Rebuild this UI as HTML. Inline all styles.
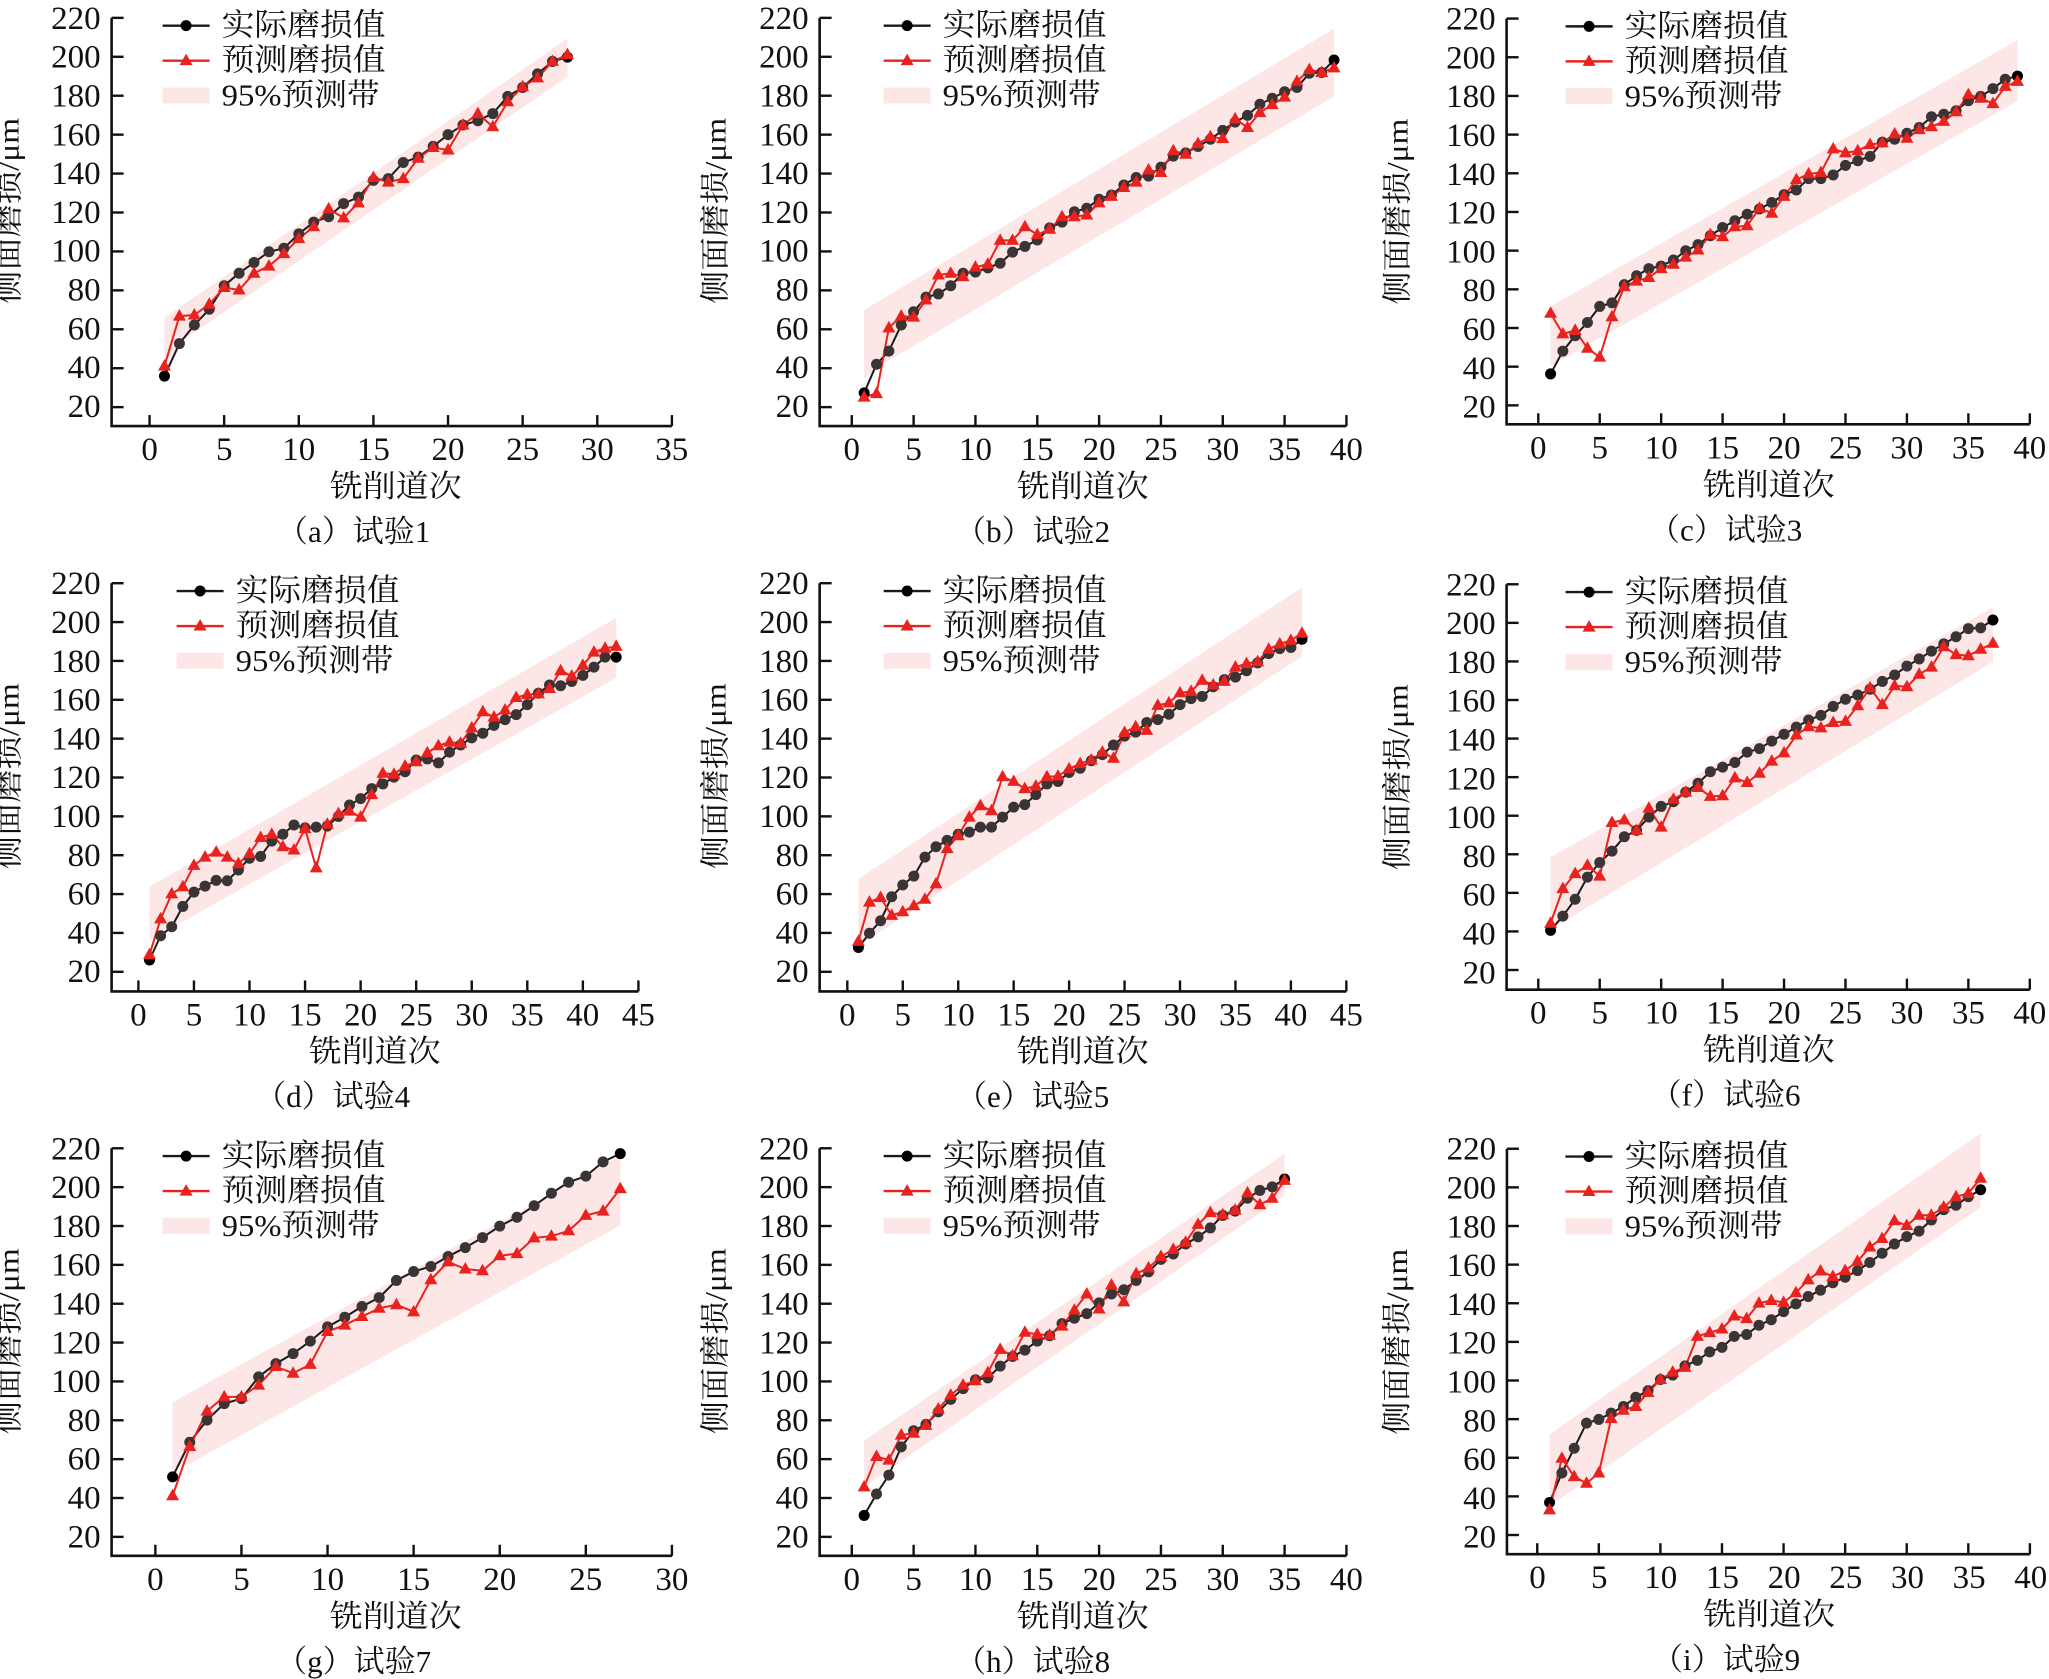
<!DOCTYPE html>
<html><head><meta charset="utf-8"><style>
html,body{margin:0;padding:0;background:#fff}
svg{display:block}
text{font-family:"Liberation Serif","Noto Serif CJK SC",serif;fill:#111}
.yl{font-size:33px;text-anchor:end}
.xl{font-size:33px;text-anchor:middle}
.t{font-size:31px;text-anchor:middle}
.yt{font-size:30px;text-anchor:middle}
.lg{font-size:31px}
</style></head><body>
<svg id="s" width="2049" height="1679" viewBox="0 0 2049 1679" xmlns="http://www.w3.org/2000/svg">
<rect width="2049" height="1679" fill="#fff"/>
<g id="data"></g>

<!-- panel a -->
<g transform="translate(111.6,17.9)">
<text class="yl" x="-11" y="11">220</text><text class="yl" x="-11" y="49.8">200</text><text class="yl" x="-11" y="88.6">180</text><text class="yl" x="-11" y="127.4">160</text><text class="yl" x="-11" y="166.2">140</text><text class="yl" x="-11" y="205">120</text><text class="yl" x="-11" y="243.8">100</text><text class="yl" x="-11" y="282.6">80</text><text class="yl" x="-11" y="321.4">60</text><text class="yl" x="-11" y="360.2">40</text><text class="yl" x="-11" y="399">20</text>
<text class="xl" x="38" y="442.2">0</text><text class="xl" x="112.6" y="442.2">5</text><text class="xl" x="187.2" y="442.2">10</text><text class="xl" x="261.8" y="442.2">15</text><text class="xl" x="336.4" y="442.2">20</text><text class="xl" x="411" y="442.2">25</text><text class="xl" x="485.6" y="442.2">30</text><text class="xl" x="560.2" y="442.2">35</text>
<text class="t" x="284" y="479" textLength="132" lengthAdjust="spacingAndGlyphs">铣削道次</text>
<text class="t" x="242" y="524">（a）试验1</text>
<text class="yt" transform="translate(-93,193) rotate(-90)" textLength="186" lengthAdjust="spacingAndGlyphs">侧面磨损/μm</text>
<text class="lg" x="110" y="17.8" textLength="164" lengthAdjust="spacingAndGlyphs">实际磨损值</text>
<text class="lg" x="110" y="52.8" textLength="164" lengthAdjust="spacingAndGlyphs">预测磨损值</text>
<text class="lg" x="110" y="87.8" textLength="158" lengthAdjust="spacingAndGlyphs">95%预测带</text>
</g>

<!-- panel b -->
<g transform="translate(819.6,17.9)">
<text class="yl" x="-11" y="11">220</text><text class="yl" x="-11" y="49.8">200</text><text class="yl" x="-11" y="88.6">180</text><text class="yl" x="-11" y="127.4">160</text><text class="yl" x="-11" y="166.2">140</text><text class="yl" x="-11" y="205">120</text><text class="yl" x="-11" y="243.8">100</text><text class="yl" x="-11" y="282.6">80</text><text class="yl" x="-11" y="321.4">60</text><text class="yl" x="-11" y="360.2">40</text><text class="yl" x="-11" y="399">20</text>
<text class="xl" x="32.2" y="442.2">0</text><text class="xl" x="94" y="442.2">5</text><text class="xl" x="155.9" y="442.2">10</text><text class="xl" x="217.7" y="442.2">15</text><text class="xl" x="279.5" y="442.2">20</text><text class="xl" x="341.4" y="442.2">25</text><text class="xl" x="403.2" y="442.2">30</text><text class="xl" x="465" y="442.2">35</text><text class="xl" x="526.8" y="442.2">40</text>
<text class="t" x="263" y="479" textLength="132" lengthAdjust="spacingAndGlyphs">铣削道次</text>
<text class="t" x="213" y="524">（b）试验2</text>
<text class="yt" transform="translate(-94,193) rotate(-90)" textLength="186" lengthAdjust="spacingAndGlyphs">侧面磨损/μm</text>
<text class="lg" x="123" y="17.8" textLength="164" lengthAdjust="spacingAndGlyphs">实际磨损值</text>
<text class="lg" x="123" y="52.8" textLength="164" lengthAdjust="spacingAndGlyphs">预测磨损值</text>
<text class="lg" x="123" y="87.8" textLength="158" lengthAdjust="spacingAndGlyphs">95%预测带</text>
</g>

<!-- panel c -->
<g transform="translate(1506.6,18.6)">
<text class="yl" x="-11" y="11">220</text><text class="yl" x="-11" y="49.8">200</text><text class="yl" x="-11" y="88.6">180</text><text class="yl" x="-11" y="127.4">160</text><text class="yl" x="-11" y="166.2">140</text><text class="yl" x="-11" y="205">120</text><text class="yl" x="-11" y="243.8">100</text><text class="yl" x="-11" y="282.6">80</text><text class="yl" x="-11" y="321.4">60</text><text class="yl" x="-11" y="360.2">40</text><text class="yl" x="-11" y="399">20</text>
<text class="xl" x="31.7" y="439.7">0</text><text class="xl" x="93.1" y="439.7">5</text><text class="xl" x="154.6" y="439.7">10</text><text class="xl" x="216" y="439.7">15</text><text class="xl" x="277.5" y="439.7">20</text><text class="xl" x="338.9" y="439.7">25</text><text class="xl" x="400.3" y="439.7">30</text><text class="xl" x="461.8" y="439.7">35</text><text class="xl" x="523.2" y="439.7">40</text>
<text class="t" x="262" y="476.7" textLength="132" lengthAdjust="spacingAndGlyphs">铣削道次</text>
<text class="t" x="219" y="521.7">（c）试验3</text>
<text class="yt" transform="translate(-99,193) rotate(-90)" textLength="186" lengthAdjust="spacingAndGlyphs">侧面磨损/μm</text>
<text class="lg" x="118" y="17.8" textLength="164" lengthAdjust="spacingAndGlyphs">实际磨损值</text>
<text class="lg" x="118" y="52.8" textLength="164" lengthAdjust="spacingAndGlyphs">预测磨损值</text>
<text class="lg" x="118" y="87.8" textLength="158" lengthAdjust="spacingAndGlyphs">95%预测带</text>
</g>

<!-- panel d -->
<g transform="translate(111.6,583.2)">
<text class="yl" x="-11" y="11">220</text><text class="yl" x="-11" y="49.8">200</text><text class="yl" x="-11" y="88.6">180</text><text class="yl" x="-11" y="127.4">160</text><text class="yl" x="-11" y="166.2">140</text><text class="yl" x="-11" y="205">120</text><text class="yl" x="-11" y="243.8">100</text><text class="yl" x="-11" y="282.6">80</text><text class="yl" x="-11" y="321.4">60</text><text class="yl" x="-11" y="360.2">40</text><text class="yl" x="-11" y="399">20</text>
<text class="xl" x="26.8" y="442.2">0</text><text class="xl" x="82.4" y="442.2">5</text><text class="xl" x="137.9" y="442.2">10</text><text class="xl" x="193.5" y="442.2">15</text><text class="xl" x="249" y="442.2">20</text><text class="xl" x="304.6" y="442.2">25</text><text class="xl" x="360.1" y="442.2">30</text><text class="xl" x="415.7" y="442.2">35</text><text class="xl" x="471.2" y="442.2">40</text><text class="xl" x="526.8" y="442.2">45</text>
<text class="t" x="263" y="479" textLength="132" lengthAdjust="spacingAndGlyphs">铣削道次</text>
<text class="t" x="221" y="524">（d）试验4</text>
<text class="yt" transform="translate(-93,193) rotate(-90)" textLength="186" lengthAdjust="spacingAndGlyphs">侧面磨损/μm</text>
<text class="lg" x="124" y="17.8" textLength="164" lengthAdjust="spacingAndGlyphs">实际磨损值</text>
<text class="lg" x="124" y="52.8" textLength="164" lengthAdjust="spacingAndGlyphs">预测磨损值</text>
<text class="lg" x="124" y="87.8" textLength="158" lengthAdjust="spacingAndGlyphs">95%预测带</text>
</g>

<!-- panel e -->
<g transform="translate(819.6,583.2)">
<text class="yl" x="-11" y="11">220</text><text class="yl" x="-11" y="49.8">200</text><text class="yl" x="-11" y="88.6">180</text><text class="yl" x="-11" y="127.4">160</text><text class="yl" x="-11" y="166.2">140</text><text class="yl" x="-11" y="205">120</text><text class="yl" x="-11" y="243.8">100</text><text class="yl" x="-11" y="282.6">80</text><text class="yl" x="-11" y="321.4">60</text><text class="yl" x="-11" y="360.2">40</text><text class="yl" x="-11" y="399">20</text>
<text class="xl" x="27.7" y="442.2">0</text><text class="xl" x="83.2" y="442.2">5</text><text class="xl" x="138.6" y="442.2">10</text><text class="xl" x="194.1" y="442.2">15</text><text class="xl" x="249.5" y="442.2">20</text><text class="xl" x="305" y="442.2">25</text><text class="xl" x="360.4" y="442.2">30</text><text class="xl" x="415.9" y="442.2">35</text><text class="xl" x="471.3" y="442.2">40</text><text class="xl" x="526.8" y="442.2">45</text>
<text class="t" x="263" y="479" textLength="132" lengthAdjust="spacingAndGlyphs">铣削道次</text>
<text class="t" x="213" y="524">（e）试验5</text>
<text class="yt" transform="translate(-94,193) rotate(-90)" textLength="186" lengthAdjust="spacingAndGlyphs">侧面磨损/μm</text>
<text class="lg" x="123" y="17.8" textLength="164" lengthAdjust="spacingAndGlyphs">实际磨损值</text>
<text class="lg" x="123" y="52.8" textLength="164" lengthAdjust="spacingAndGlyphs">预测磨损值</text>
<text class="lg" x="123" y="87.8" textLength="158" lengthAdjust="spacingAndGlyphs">95%预测带</text>
</g>

<!-- panel f -->
<g transform="translate(1506.6,584.3)">
<text class="yl" x="-11" y="11">220</text><text class="yl" x="-11" y="49.8">200</text><text class="yl" x="-11" y="88.6">180</text><text class="yl" x="-11" y="127.4">160</text><text class="yl" x="-11" y="166.2">140</text><text class="yl" x="-11" y="205">120</text><text class="yl" x="-11" y="243.8">100</text><text class="yl" x="-11" y="282.6">80</text><text class="yl" x="-11" y="321.4">60</text><text class="yl" x="-11" y="360.2">40</text><text class="yl" x="-11" y="399">20</text>
<text class="xl" x="31.7" y="439.3">0</text><text class="xl" x="93.1" y="439.3">5</text><text class="xl" x="154.6" y="439.3">10</text><text class="xl" x="216" y="439.3">15</text><text class="xl" x="277.5" y="439.3">20</text><text class="xl" x="338.9" y="439.3">25</text><text class="xl" x="400.3" y="439.3">30</text><text class="xl" x="461.8" y="439.3">35</text><text class="xl" x="523.2" y="439.3">40</text>
<text class="t" x="262" y="476.3" textLength="132" lengthAdjust="spacingAndGlyphs">铣削道次</text>
<text class="t" x="219" y="521.3">（f）试验6</text>
<text class="yt" transform="translate(-99,193) rotate(-90)" textLength="186" lengthAdjust="spacingAndGlyphs">侧面磨损/μm</text>
<text class="lg" x="118" y="17.8" textLength="164" lengthAdjust="spacingAndGlyphs">实际磨损值</text>
<text class="lg" x="118" y="52.8" textLength="164" lengthAdjust="spacingAndGlyphs">预测磨损值</text>
<text class="lg" x="118" y="87.8" textLength="158" lengthAdjust="spacingAndGlyphs">95%预测带</text>
</g>

<!-- panel g -->
<g transform="translate(111.6,1148.3)">
<text class="yl" x="-11" y="11">220</text><text class="yl" x="-11" y="49.8">200</text><text class="yl" x="-11" y="88.6">180</text><text class="yl" x="-11" y="127.4">160</text><text class="yl" x="-11" y="166.2">140</text><text class="yl" x="-11" y="205">120</text><text class="yl" x="-11" y="243.8">100</text><text class="yl" x="-11" y="282.6">80</text><text class="yl" x="-11" y="321.4">60</text><text class="yl" x="-11" y="360.2">40</text><text class="yl" x="-11" y="399">20</text>
<text class="xl" x="43.8" y="441.5">0</text><text class="xl" x="129.9" y="441.5">5</text><text class="xl" x="216" y="441.5">10</text><text class="xl" x="302" y="441.5">15</text><text class="xl" x="388.1" y="441.5">20</text><text class="xl" x="474.2" y="441.5">25</text><text class="xl" x="560.3" y="441.5">30</text>
<text class="t" x="284" y="478.5" textLength="132" lengthAdjust="spacingAndGlyphs">铣削道次</text>
<text class="t" x="242" y="523.5">（g）试验7</text>
<text class="yt" transform="translate(-93,193) rotate(-90)" textLength="186" lengthAdjust="spacingAndGlyphs">侧面磨损/μm</text>
<text class="lg" x="110" y="17.8" textLength="164" lengthAdjust="spacingAndGlyphs">实际磨损值</text>
<text class="lg" x="110" y="52.8" textLength="164" lengthAdjust="spacingAndGlyphs">预测磨损值</text>
<text class="lg" x="110" y="87.8" textLength="158" lengthAdjust="spacingAndGlyphs">95%预测带</text>
</g>

<!-- panel h -->
<g transform="translate(819.6,1148.3)">
<text class="yl" x="-11" y="11">220</text><text class="yl" x="-11" y="49.8">200</text><text class="yl" x="-11" y="88.6">180</text><text class="yl" x="-11" y="127.4">160</text><text class="yl" x="-11" y="166.2">140</text><text class="yl" x="-11" y="205">120</text><text class="yl" x="-11" y="243.8">100</text><text class="yl" x="-11" y="282.6">80</text><text class="yl" x="-11" y="321.4">60</text><text class="yl" x="-11" y="360.2">40</text><text class="yl" x="-11" y="399">20</text>
<text class="xl" x="32.2" y="441.5">0</text><text class="xl" x="94" y="441.5">5</text><text class="xl" x="155.9" y="441.5">10</text><text class="xl" x="217.7" y="441.5">15</text><text class="xl" x="279.5" y="441.5">20</text><text class="xl" x="341.4" y="441.5">25</text><text class="xl" x="403.2" y="441.5">30</text><text class="xl" x="465" y="441.5">35</text><text class="xl" x="526.8" y="441.5">40</text>
<text class="t" x="263" y="478.5" textLength="132" lengthAdjust="spacingAndGlyphs">铣削道次</text>
<text class="t" x="213" y="523.5">（h）试验8</text>
<text class="yt" transform="translate(-94,193) rotate(-90)" textLength="186" lengthAdjust="spacingAndGlyphs">侧面磨损/μm</text>
<text class="lg" x="123" y="17.8" textLength="164" lengthAdjust="spacingAndGlyphs">实际磨损值</text>
<text class="lg" x="123" y="52.8" textLength="164" lengthAdjust="spacingAndGlyphs">预测磨损值</text>
<text class="lg" x="123" y="87.8" textLength="158" lengthAdjust="spacingAndGlyphs">95%预测带</text>
</g>

<!-- panel i -->
<g transform="translate(1507.1,1148.7)">
<text class="yl" x="-11" y="11">220</text><text class="yl" x="-11" y="49.8">200</text><text class="yl" x="-11" y="88.6">180</text><text class="yl" x="-11" y="127.4">160</text><text class="yl" x="-11" y="166.2">140</text><text class="yl" x="-11" y="205">120</text><text class="yl" x="-11" y="243.8">100</text><text class="yl" x="-11" y="282.6">80</text><text class="yl" x="-11" y="321.4">60</text><text class="yl" x="-11" y="360.2">40</text><text class="yl" x="-11" y="399">20</text>
<text class="xl" x="30.4" y="439.5">0</text><text class="xl" x="92.1" y="439.5">5</text><text class="xl" x="153.7" y="439.5">10</text><text class="xl" x="215.4" y="439.5">15</text><text class="xl" x="277" y="439.5">20</text><text class="xl" x="338.7" y="439.5">25</text><text class="xl" x="400.4" y="439.5">30</text><text class="xl" x="462" y="439.5">35</text><text class="xl" x="523.7" y="439.5">40</text>
<text class="t" x="262" y="476.5" textLength="132" lengthAdjust="spacingAndGlyphs">铣削道次</text>
<text class="t" x="219" y="521.5">（i）试验9</text>
<text class="yt" transform="translate(-100,193) rotate(-90)" textLength="186" lengthAdjust="spacingAndGlyphs">侧面磨损/μm</text>
<text class="lg" x="117.5" y="17.8" textLength="164" lengthAdjust="spacingAndGlyphs">实际磨损值</text>
<text class="lg" x="117.5" y="52.8" textLength="164" lengthAdjust="spacingAndGlyphs">预测磨损值</text>
<text class="lg" x="117.5" y="87.8" textLength="158" lengthAdjust="spacingAndGlyphs">95%预测带</text>
</g>
</svg>
<script>
(function(){
var NS="http://www.w3.org/2000/svg";
var root=document.getElementById("data");
function el(n,a){var e=document.createElementNS(NS,n);for(var k in a)e.setAttribute(k,a[k]);root.appendChild(e);return e;}
var P=[
{cx:0,cy:0,sx:2.24,sy:2.8,x0:335,u:33.43,xmax:35,yax:250,y220:50,y20:1140,ax:1193,L:51,
 top:[[1,890],[28,108]],bot:[[28,215],[2,960],[1,1030]],
 k:[1053,962,910,866,800,765,735,705,695,655,622,607,570,552,505,500,455,440,410,377,350,338,318,270,245,207,172,160],
 r:[1025,885,882,852,805,812,765,745,710,668,635,585,610,568,497,510,500,443,413,420,350,318,355,285,243,218,172,153]},
{cx:700,cy:0,sx:2.24,sy:2.8,x0:340,u:27.7,xmax:40,yax:268,y220:50,y20:1140,ax:1193,L:64,
 top:[[1,868],[39,80]],bot:[[39,270],[2.5,1020],[1,1060]],
 k:[1100,1020,983,910,873,832,823,800,765,762,750,737,706,690,672,638,622,593,583,558,546,518,497,493,468,437,428,410,390,365,342,323,292,275,257,245,205,203,168],
 r:[1112,1102,918,885,888,840,770,765,775,748,740,673,673,635,657,642,607,607,602,568,550,525,510,476,483,422,432,402,383,388,333,357,315,293,272,228,195,203,190]},
{cx:1349,cy:0,sx:2.24,sy:2.8,x0:424,u:27.525,xmax:40,yax:353,y220:52,y20:1135,ax:1188,L:59,
 top:[[1,858],[39,112]],bot:[[39,283],[1,1025]],
 k:[1047,983,940,903,858,848,797,772,752,745,728,702,685,660,637,618,600,585,567,545,532,500,500,490,463,450,438,398,390,373,357,327,320,310,282,270,248,222,213],
 r:[877,935,925,975,1000,887,803,787,777,752,740,720,700,657,663,635,632,583,597,550,503,487,483,417,428,422,405,400,375,387,363,355,340,313,265,275,290,242,228]},
{cx:0,cy:560,sx:2.24,sy:2.8,x0:310,u:24.89,xmax:45,yax:250,y220:65,y20:1153,ax:1208,L:65,
 top:[[1,915],[43,162]],bot:[[43,330],[1,1065]],
 k:[1120,1052,1027,970,930,913,897,898,868,835,830,787,768,742,750,748,745,718,686,668,640,627,608,593,560,557,568,538,518,498,485,463,447,433,405,373,350,352,340,323,300,272,272],
 r:[1105,1005,935,915,855,832,818,832,850,822,777,768,803,812,752,862,740,710,703,720,657,597,600,577,565,540,520,510,513,470,425,440,420,385,377,375,360,310,325,295,258,247,242]},
{cx:700,cy:560,sx:2.24,sy:2.8,x0:330,u:24.84,xmax:45,yax:268,y220:65,y20:1153,ax:1208,L:64,
 top:[[1,893],[41,77]],bot:[[41,270],[1,1080]],
 k:[1085,1045,1010,943,910,885,832,803,785,768,762,748,748,720,692,685,657,627,620,595,583,562,545,518,493,482,455,447,432,405,388,382,355,335,328,310,288,262,248,245,222],
 r:[1068,958,945,995,985,968,950,907,808,772,720,688,702,607,620,640,633,607,605,585,570,560,538,555,483,467,477,407,400,372,368,337,350,340,300,290,285,250,235,225,205]},
{cx:1349,cy:560,sx:2.24,sy:2.8,x0:424,u:27.525,xmax:40,yax:353,y220:68,y20:1148,ax:1203,L:59,
 top:[[1,832],[37,132]],bot:[[37,285],[1,1035]],
 k:[1037,997,950,888,847,815,775,757,720,690,677,650,625,593,580,567,538,528,507,488,468,448,435,410,390,378,362,340,322,297,277,255,235,215,192,190,168],
 r:[1017,920,878,855,885,735,728,757,695,748,670,650,637,662,660,610,623,597,563,540,490,467,470,455,452,408,358,405,352,355,320,300,243,265,268,250,233]},
{cx:0,cy:1119,sx:2.24,sy:2.8,x0:348,u:38.57,xmax:30,yax:250,y220:82,y20:1170,ax:1223,L:51,
 top:[[1,793],[27,103]],bot:[[27,298],[2,965],[1,980]],
 k:[1002,905,843,797,783,722,685,657,622,582,555,525,500,452,427,413,385,360,332,300,275,243,208,177,160,120,97],
 r:[1055,917,818,778,778,745,693,712,687,595,577,553,530,520,540,450,400,420,425,383,377,333,328,313,270,258,195]},
{cx:700,cy:1119,sx:2.24,sy:2.8,x0:340,u:27.7,xmax:40,yax:268,y220:82,y20:1170,ax:1223,L:64,
 top:[[1,900],[35,97]],bot:[[35,215],[1,1030]],
 k:[1110,1050,997,918,873,855,820,785,755,730,725,692,665,647,622,607,573,558,545,515,490,478,452,428,393,378,350,330,305,270,258,222,200,190,168],
 r:[1030,945,955,885,880,858,812,773,745,733,710,645,663,597,603,605,580,535,490,532,465,512,433,417,385,365,345,295,262,268,255,207,240,222,172]},
{cx:1350,cy:1100,sx:2.243,sy:2.708,x0:420,u:27.625,xmax:40,yax:352,y220:132,y20:1178,ax:1230,L:58.5,
 top:[[1,905],[36,90]],bot:[[36,290],[1,1100]],
 k:[1090,1010,943,875,865,848,830,805,787,757,745,720,705,682,670,640,635,610,595,573,552,532,515,495,480,462,440,415,390,370,355,325,297,285,262,243],
 r:[1110,970,1020,1038,1010,863,840,830,792,757,737,724,640,630,620,585,592,550,543,548,522,487,463,478,462,437,398,375,327,340,312,312,290,262,253,212]}
];
var RED="#e8231f",BLK="#1a1a1a",DOT="#3a3434";
function tri(x,y,c){el("polygon",{points:(x)+","+(y-7)+" "+(x+6.5)+","+(y+4.5)+" "+(x-6.5)+","+(y+4.5),fill:c});}
P.forEach(function(p){
 function X(i){return p.cx+(p.x0+i*p.u)/p.sx;}
 function XZ(z){return p.cx+z/p.sx;}
 function Y(z){return p.cy+z/p.sy;}
 var yax=XZ(p.yax),axy=Y(p.ax),y220=Y(p.y220),y20=Y(p.y20);
 var pts=[];p.top.forEach(function(q){pts.push(X(q[0])+","+Y(q[1]));});
 p.bot.forEach(function(q){pts.push(X(q[0])+","+Y(q[1]));});
 el("polygon",{points:pts.join(" "),fill:"#fce6e6"});
 var xend=X(p.xmax);
 el("path",{d:"M"+yax+","+y220+" L"+yax+","+axy+" L"+xend+","+axy,fill:"none",stroke:"#111","stroke-width":2.6});
 var sp=(y20-y220)/10;
 for(var t=0;t<=10;t++){var yy=y220+t*sp;el("line",{x1:yax,y1:yy,x2:yax+12,y2:yy,stroke:"#111","stroke-width":2.4});}
 for(var v=0;v<=p.xmax;v+=5){var xx=X(v);el("line",{x1:xx,y1:axy,x2:xx,y2:axy-11,stroke:"#111","stroke-width":2.4});}
 var kp=p.k.map(function(z,i){return X(i+1)+","+Y(z);}).join(" ");
 var rp=p.r.map(function(z,i){return X(i+1)+","+Y(z);}).join(" ");
 el("polyline",{points:kp,fill:"none",stroke:BLK,"stroke-width":2});
 el("polyline",{points:rp,fill:"none",stroke:RED,"stroke-width":2});
 p.k.forEach(function(z,i){el("circle",{cx:X(i+1),cy:Y(z),r:5.5,fill:(i==0||i==p.k.length-1)?"#000":DOT});});
 p.r.forEach(function(z,i){tri(X(i+1),Y(z),RED);});
 var lx=yax+p.L, ly=y220;
 el("line",{x1:lx,y1:ly+7.8,x2:lx+47,y2:ly+7.8,stroke:BLK,"stroke-width":2.4});
 el("circle",{cx:lx+23.5,cy:ly+7.8,r:5.5,fill:"#000"});
 el("line",{x1:lx,y1:ly+42.8,x2:lx+47,y2:ly+42.8,stroke:RED,"stroke-width":2.4});
 tri(lx+23.5,ly+42.8,RED);
 el("rect",{x:lx,y:ly+69.6,width:47,height:16,fill:"#fce6e6"});
});
})();
</script>
</body></html>
